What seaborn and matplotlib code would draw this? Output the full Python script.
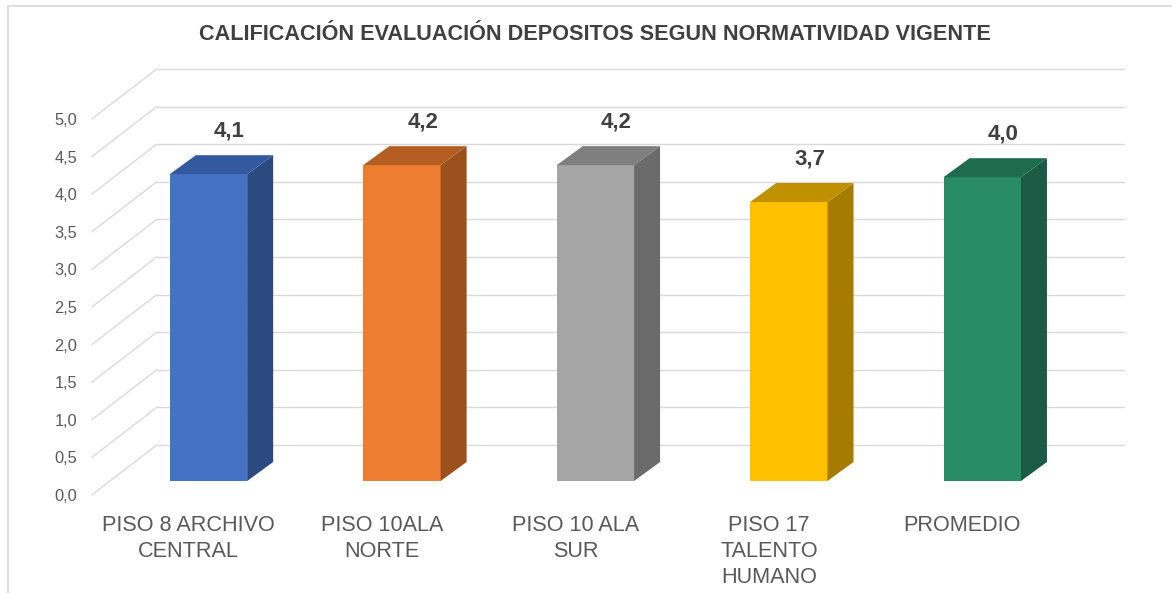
import numpy as np
import matplotlib
matplotlib.use("Agg")
import matplotlib.pyplot as plt
from matplotlib.patches import Polygon
from matplotlib.lines import Line2D
import seaborn as sns

# data
categories = ["PISO 8 ARCHIVO CENTRAL", "PISO 10ALA NORTE", "PISO 10 ALA SUR",
              "PISO 17 TALENTO HUMANO", "PROMEDIO"]
tick_labels = ["PISO 8 ARCHIVO\nCENTRAL", "PISO 10ALA\nNORTE", "PISO 10 ALA\nSUR",
               "PISO 17\nTALENTO\nHUMANO", "PROMEDIO"]
scores = [4.08, 4.20, 4.20, 3.71, 4.04]
y_ticks = [0.0, 0.5, 1.0, 1.5, 2.0, 2.5, 3.0, 3.5, 4.0, 4.5, 5.0]
title = "CALIFICACIÓN EVALUACIÓN DEPOSITOS SEGUN NORMATIVIDAD VIGENTE"

# colours: front / right side / top of each 3d bar
front_colors = ["#4472C4", "#ED7D31", "#A5A5A5", "#FFC000", "#298C69"]
side_colors = ["#2B4A80", "#9B501E", "#6B6B6B", "#A67C00", "#1B5B45"]
top_colors = ["#335A9E", "#B55E22", "#7F7F7F", "#BF9000", "#1F6B50"]
GRID = "#D9D9D9"
TEXT = "#595959"

W, H = 1172, 593
sns.set_style("white")
plt.rcParams["font.family"] = ["Liberation Sans", "DejaVu Sans"]

fig = plt.figure(figsize=(W / 100, H / 100), dpi=100)

# the axes is the plane of the bar fronts (image pixels)
px_x, px_y = 193.45, 75.2      # pixels per category / per score unit
x0_px, y0_px = 111.75, 481.0   # left edge and zero line
ylo, yhi = -0.4, 5.4
bottom_px = y0_px - ylo * px_y
ax = fig.add_axes([x0_px / W, (H - bottom_px) / H,
                   5 * px_x / W, (yhi - ylo) * px_y / H])


def depth(dx_px, dy_px):
    # pixel offset (image coords, y down) -> data offset
    return dx_px / px_x, -dy_px / px_y


fx, fy = depth(-20, 14)   # front edge of the floor
wx, wy = depth(45, -36)   # back wall
bx, by = depth(26, -19)   # bar depth

# side wall + back wall gridlines
for t in y_ticks:
    ax.plot([-0.5 + fx, -0.5 + wx], [t + fy, t + wy], color=GRID, lw=1, zorder=0, clip_on=False)
    ax.plot([-0.5 + wx, 4.5 + wx], [t + wy, t + wy], color=GRID, lw=1, zorder=0, clip_on=False)

sns.barplot(x=categories, y=scores, hue=categories, palette=front_colors, saturation=1,
            width=0.4, legend=False, errorbar=None, linewidth=0, ax=ax, zorder=2)

bars = sorted(ax.patches, key=lambda p: p.get_x())
for i, p in enumerate(bars):
    x, w, h = p.get_x(), p.get_width(), p.get_height()
    side = [(x + w, 0), (x + w + bx, by), (x + w + bx, h + by), (x + w, h)]
    top = [(x, h), (x + bx, h + by), (x + w + bx, h + by), (x + w, h)]
    ax.add_patch(Polygon(side, closed=True, facecolor=side_colors[i], lw=0, zorder=2))
    ax.add_patch(Polygon(top, closed=True, facecolor=top_colors[i], lw=0, zorder=2))
    ax.annotate(f"{scores[i]:.1f}".replace(".", ","), (x + w / 2, h),
                xytext=(15, 31), textcoords="offset points", ha="center", va="center",
                fontsize=16, fontweight="bold", color="#404040", annotation_clip=False)

ax.set_xlim(-0.5, 4.5)
ax.set_ylim(ylo, yhi)
ax.set_xticks(np.arange(len(categories)) + fx, tick_labels)
ax.set_yticks(np.array(y_ticks) + fy, [f"{t:.1f}".replace(".", ",") for t in y_ticks])
ax.tick_params(axis="x", length=0, pad=3, labelsize=15.6, labelcolor=TEXT)
ax.tick_params(axis="y", length=0, pad=25, labelsize=11.8, labelcolor=TEXT)
for lab in ax.get_xticklabels():
    lab.set_linespacing(1.3)
ax.set_xlabel("")
ax.set_ylabel("")
ax.set_facecolor("none")
sns.despine(ax=ax, left=True, bottom=True)

fig.text(595 / W, 1 - 34 / H, title, ha="center", va="center",
         fontsize=15.6, fontweight="bold", color="#404040")

# chart frame (left and top edges are visible)
fig.add_artist(Line2D([7.5 / W, 7.5 / W], [0, 1 - 6 / H], transform=fig.transFigure, color=GRID, lw=1.2))
fig.add_artist(Line2D([7.5 / W, 1], [1 - 6 / H, 1 - 6 / H], transform=fig.transFigure, color=GRID, lw=1.2))

fig.savefig("out.png", dpi=100)
